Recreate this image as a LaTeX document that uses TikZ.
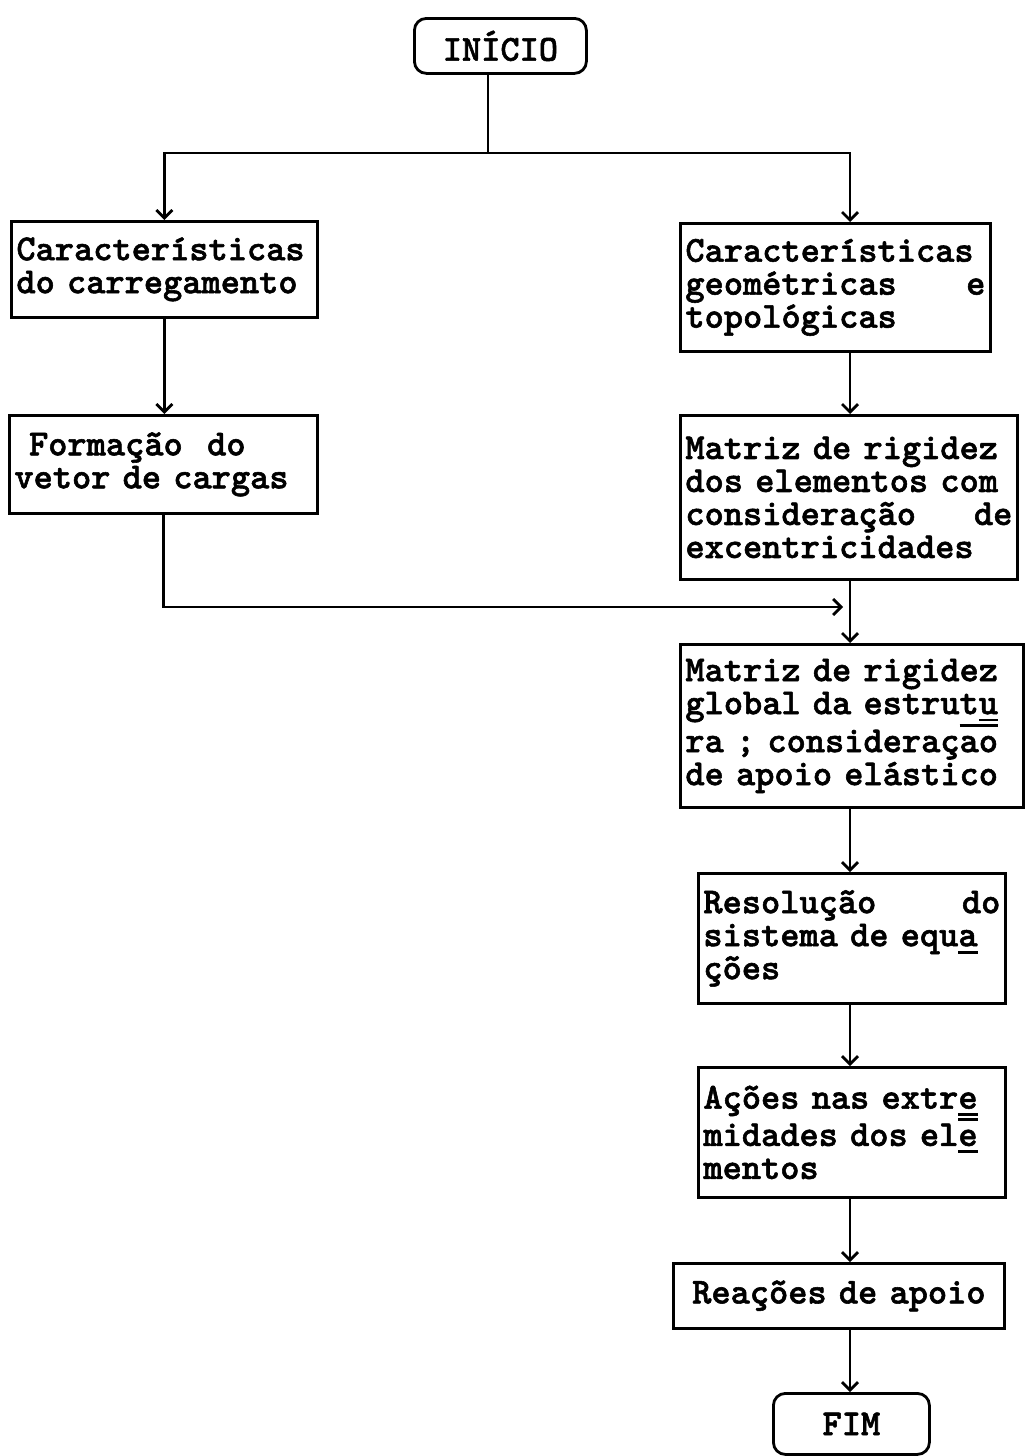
\documentclass[tikz,border=0pt]{standalone}
\usepackage{fontspec}
\newfontfamily\boxfont{lmmonolt10-bold.otf}[FakeBold=1.5]
\usetikzlibrary{arrows.meta}

\newcommand\lobar[2]{\makebox[0pt][l]{\rule[-0.2em]{#1em}{0.08em}}#2}
\newcommand\hibar[2]{\makebox[0pt][l]{\rule[0.68em]{#1em}{0.08em}}#2}

\begin{document}
\begin{tikzpicture}[
    x=0.5pt, y=-0.5pt,
    line width=1.4pt,
    >={Straight Barb[length=4pt,width=8pt]},
    every node/.style={font=\boxfont\fontsize{18.3}{16.5}\selectfont},
    terminal/.style={draw, rounded corners=6pt, anchor=north west, minimum width=#1},
    process/.style={draw, align=left, anchor=north west, inner xsep=2.5pt, text width=#1},
]
    \useasboundingbox (0,0) rectangle (1031,1456);

    \node[terminal=86pt, minimum height=27.5pt] (start) at (413,17) {INÍCIO};

    \node[process=148pt, minimum height=48pt] (load) at (10,220)
        {Características\\do carregamento};
    \node[process=149pt, minimum height=49pt] (vector) at (8,414)
        {\hspace*{0.4em}Formação\ \ do\\vetor de cargas};

    \node[process=150pt, minimum height=64pt] (geom) at (679,222)
        {Características\\geométricas\hfill e\\topológicas};
    \node[process=163.5pt, minimum height=82pt] (elem) at (679,414)
        {Matriz de rigidez\\dos elementos com\\consideração\hfill de\\excentricidades};
    \node[process=166.5pt, minimum height=81.5pt] (glob) at (679,643)
        {Matriz de rigidez\\global da estrut\lobar{0.525}{u}\\ra ; consideraç\hibar{1.05}{ao}\\de apoio elástico};
    \node[process=148.5pt, minimum height=65pt] (solve) at (697,872)
        {Resolução\hfill do\\sistema de equ\lobar{0.525}{a}\\ções};
    \node[process=148.5pt, minimum height=65pt] (ends) at (697,1066)
        {Ações nas extr\lobar{0.525}{e}\\midades dos el\hibar{0.525}{\lobar{0.525}{e}}\\mentos};
    \node[process=160.5pt, minimum height=32.5pt, align=center] (react) at (672,1262)
        {Reações de apoio};

    \node[terminal=78pt, minimum height=30.5pt] (stop) at (772,1392) {FIM};

    \coordinate (split) at (488,153);
    \coordinate (spine) at (850,0);
    \coordinate (join) at (843,607);

    \draw (start.south -| split) -- (split);
    \draw[->] (split) -| (load.north);
    \draw[->] (split) -| (geom.north -| spine);
    \draw[->] (load.south) -- (load.south |- vector.north);
    \draw[->] (vector.south) |- (join);
    \draw[->] (geom.south -| spine) -- (elem.north -| spine);
    \draw[->] (elem.south -| spine) -- (glob.north -| spine);
    \draw[->] (glob.south -| spine) -- (solve.north -| spine);
    \draw[->] (solve.south -| spine) -- (ends.north -| spine);
    \draw[->] (ends.south -| spine) -- (react.north -| spine);
    \draw[->] (react.south -| spine) -- (stop.north -| spine);
\end{tikzpicture}
\end{document}
